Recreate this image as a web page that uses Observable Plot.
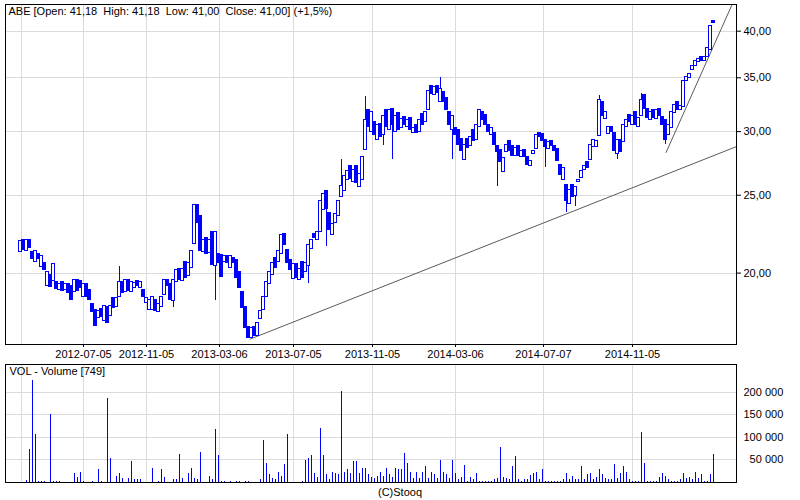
<!DOCTYPE html>
<html><head><meta charset="utf-8">
<script src="https://cdn.jsdelivr.net/npm/d3@7"></script>
<script src="https://cdn.jsdelivr.net/npm/@observablehq/plot@0.6"></script>
<style>
body{margin:0;background:#fff;}
#wrap{position:relative;width:800px;height:500px;font-family:"Liberation Sans",Arial,sans-serif;font-size:11px;color:#000;}
#wrap svg{display:block;}
svg text{white-space:pre;}
#caption{position:absolute;left:0;top:486px;width:800px;text-align:center;font-size:11px;line-height:13px;}
</style></head><body>
<div id="wrap"><div id="price"></div><div id="vol"></div><div id="caption">(C)Stooq</div></div>
<script>
// session opens (one entry per plotted session)
const opens = [21.22,21.96,21.28,21.96,21.22,20.62,21.1,20.38,20.56,19.25,
19.92,19.58,19.47,19.03,19.47,19.03,19.36,19.3,18.92,19.63,
19.58,18.7,19.41,19.03,18.28,17.97,17.61,18.07,17.46,18.17,
17.71,18.6,18.17,18.7,19.52,18.97,19.63,18.97,19.19,19.58,
19.19,19.03,18.38,17.97,17.97,18.54,17.87,18.17,18.81,19.63,
19.36,18.49,19.47,20.21,19.58,20.62,19.86,20.27,21.77,24.28,
23.58,21.22,22.09,21.16,22.47,20.44,21.1,21.04,20.62,20.98,
20.27,20.86,20.74,20.04,18.92,18.17,17.16,16.59,17.16,16.68,
17.56,17.97,18.7,19.41,19.92,20.86,20.62,21.1,22.34,21.34,
20.74,19.69,20.5,19.63,20.62,20.04,20.44,21.46,22.4,21.96,
22.47,23.93,25.34,23.73,22.28,23.12,23.58,24.84,25.34,26.08,
27.22,25.93,27.15,25.63,26.08,28.42,31.87,29.93,30.8,29.25,
30.62,29.68,31.87,30.1,32.05,29.93,31.6,30.27,31.25,30.36,
31.16,29.85,30.53,29.93,31.51,30.8,31.87,34.22,33.28,34.22,
32.61,33.56,32.99,31.69,30.1,30.27,30.1,29.33,27.62,29.33,
28.75,30.1,29.25,30.36,31.69,31.42,30.53,29.68,29.85,28.75,
28.42,26.69,28.26,29.17,28.75,27.94,28.75,27.86,28.42,27.86,
27.15,28.1,28.58,29.85,29.76,29.25,28.58,29.17,28.75,28.58,
27.3,26.08,25.71,24.35,25.78,24.91,26.0,26.23,26.84,27.46,
27.62,28.67,28.67,29.59,32.61,31.06,29.76,30.36,29.85,28.1,
29.25,29.08,30.36,31.42,30.53,31.69,30.36,31.33,33.28,32.05,
30.97,31.87,31.06,32.05,31.25,30.97,29.68,30.27,31.6,32.61,
31.87,32.23,34.73,35.03,35.74,36.16,36.57,37.2,36.68,37.2,
37.85,41.18];

// session closes
const closes = [21.9,21.35,22.0,21.5,20.8,21.3,20.8,21.0,20.2,20.05,
19.2,20.5,19.1,19.4,19.0,19.4,18.9,18.5,19.6,19.0,
19.15,19.4,18.7,18.5,17.9,17.2,17.95,17.65,18.2,17.35,
18.2,18.1,18.6,19.5,18.9,19.6,19.0,19.5,19.45,19.3,
19.5,18.7,18.6,18.5,18.65,17.95,18.3,18.7,19.6,19.25,
18.5,19.6,20.15,19.6,20.25,19.7,20.6,21.3,24.3,23.1,
21.3,22.0,21.1,22.0,20.45,22.5,20.6,19.8,21.0,20.6,
21.0,20.6,19.7,19.15,18.1,17.1,16.6,17.1,16.7,17.35,
17.95,18.7,19.5,20.05,20.6,20.3,21.3,22.3,21.7,20.6,
20.2,20.5,19.7,20.25,19.7,20.6,21.7,22.0,22.1,22.5,
24.6,25.1,24.0,22.6,23.0,23.7,24.6,25.7,26.4,26.8,
26.2,26.9,25.9,26.6,27.9,31.0,30.4,31.7,29.7,30.6,
29.5,31.4,30.4,31.9,30.6,31.4,30.1,31.1,30.6,31.0,
30.1,30.3,29.9,31.0,30.6,31.7,33.7,33.4,34.1,33.5,
33.9,32.7,31.9,30.6,31.4,29.7,28.9,28.4,28.9,28.6,
29.5,29.2,30.6,31.9,31.0,30.6,30.0,30.3,28.9,28.3,
27.5,27.8,28.9,28.4,28.0,28.6,28.0,28.4,27.9,27.3,
27.6,28.4,29.7,29.5,29.2,28.7,29.1,28.75,28.4,27.6,
26.5,27.0,24.6,25.4,24.9,25.6,26.1,26.8,27.2,27.0,
28.9,29.25,29.2,32.8,31.4,31.7,30.4,30.0,28.4,29.25,
28.3,30.6,31.0,30.8,31.4,30.6,31.2,32.8,32.0,31.2,
31.7,31.2,31.9,31.4,30.6,29.25,30.6,31.7,32.4,31.9,
32.3,34.7,35.1,35.4,36.2,36.7,36.9,36.7,37.1,38.1,
40.6,41.0];

// volume per session, thousands of shares
const volumesK = [0,0,3,72,226,105,2,2,2,0,
150,2,2,2,0,0,0,0,19,10,
22,2,0,0,2,0,27,2,0,187,
52,0,12,20,8,0,8,45,5,5,
5,0,0,0,29,0,2,27,10,0,
0,5,5,62,8,0,20,30,8,5,
65,0,0,12,5,116,58,2,2,0,
2,0,2,2,0,2,2,0,0,0,
5,92,42,17,8,5,21,12,40,105,
0,0,0,0,2,49,53,58,20,10,
119,60,17,5,22,20,17,201,22,27,
20,45,46,20,30,30,17,10,8,13,
22,12,30,17,10,30,27,27,63,42,
22,8,22,8,22,34,8,22,17,8,
47,22,17,8,49,20,5,10,36,2,
10,5,19,2,2,2,2,2,5,8,
78,10,8,5,34,56,5,2,5,5,
15,20,22,5,28,2,2,2,2,2,
2,5,20,5,13,5,5,34,5,17,
20,5,10,27,17,8,5,5,38,8,
20,34,22,5,2,2,2,110,41,2,
2,2,2,10,19,13,5,2,2,2,
5,20,8,10,5,22,8,17,2,2,
17,62];

// sessions with visible shadows (wicks)
const wickIndex = [33,51,65,96,102,107,115,121,124,140,144,159,175,182,185,193,199,207,215];
const wickLow   = [null,18.1,18.5,19.4,21.6,null,null,28.8,27.7,null,27.7,25.6,27.1,23.8,24.2,null,27.7,null,28.9];
const wickHigh  = [20.4,null,null,null,null,27.7,33.2,null,null,35.0,null,null,null,null,null,33.3,null,33.5,null];

// date grid: session index where each date falls
const dateTickIndex  = [0.33,21,42,66.33,91,117.33,145,174.33,204];
const dateTickLabels = ["","2012-07-05","2012-11-05","2013-03-06","2013-07-05","2013-11-05","2014-03-06","2014-07-07","2014-11-05"];

const priceTicks = [20,25,30,35,40];
const volTicks = [50000,100000,150000,200000];

// trend lines (session index, price)
const trendAIndex = [76.67,238.67], trendAPrice = [16.56,28.74];
const trendBIndex = [215.2,237.2],  trendBPrice = [28.26,43.18];

const titleText = "ABE [Open: 41,18  High: 41,18  Low: 41,00  Close: 41,00] (+1,5%)";
const volText = "VOL - Volume [749]";

// ---- build tables ----
const candles = closes.map((c,i)=>{
  const o = opens[i];
  let lo = Math.min(o,c), hi = Math.max(o,c);
  const w = wickIndex.indexOf(i);
  if (w>=0){
    if (wickLow[w]!=null) lo = Math.min(lo, wickLow[w]);
    if (wickHigh[w]!=null) hi = Math.max(hi, wickHigh[w]);
  }
  return {i, open:o, close:c, low:lo, high:hi, up:c>=o};
});
const trendA = trendAIndex.map((x,k)=>({i:x,p:trendAPrice[k]}));
const trendB = trendBIndex.map((x,k)=>({i:x,p:trendBPrice[k]}));
const volData = volumesK.map((v,i)=>({i, v:v*1000})).filter(d=>d.v>0);
const labelMap = new Map(dateTickIndex.map((d,k)=>[d,dateTickLabels[k]]));
const labeledTicks = dateTickIndex.filter((d,k)=>dateTickLabels[k]!=="");

const BLUE = "#0000ff", GRID = "#dadada";
const style = {fontFamily:"'Liberation Sans', Arial, sans-serif", fontSize:"11px", color:"#000", background:"#fff", overflow:"visible"};
const xDomain = [-5, 238.67];
const bw = 0.42;
const crisp = {shapeRendering:"crispEdges"};

const price = Plot.plot({
  width:800, height:362, marginLeft:5, marginRight:64, marginTop:4, marginBottom:18,
  style,
  x:{type:"linear", domain:xDomain, axis:null, label:null},
  y:{type:"log", domain:[16.3, 43.18], axis:null, label:null},
  marks:[
    Plot.gridX(dateTickIndex, {stroke:GRID, strokeOpacity:1, ...crisp}),
    Plot.gridY(priceTicks, {stroke:GRID, strokeOpacity:1, ...crisp}),
    Plot.line(trendA, {x:"i", y:"p", stroke:"#5a5a5a", strokeWidth:1, clip:true}),
    Plot.line(trendB, {x:"i", y:"p", stroke:"#5a5a5a", strokeWidth:1, clip:true}),
    Plot.ruleX(candles, {x:"i", y1:"low", y2:"high", stroke:BLUE, strokeWidth:1, ...crisp}),
    Plot.rect(candles.filter(d=>d.up), {x1:d=>d.i-bw, x2:d=>d.i+bw, y1:"open", y2:"close", fill:"#fff", stroke:BLUE, strokeWidth:1, ...crisp}),
    Plot.rect(candles.filter(d=>!d.up), {x1:d=>d.i-bw, x2:d=>d.i+bw, y1:"open", y2:"close", fill:BLUE, stroke:BLUE, strokeWidth:1, ...crisp}),
    Plot.frame({stroke:"#000", ...crisp}),
    Plot.axisY(priceTicks, {anchor:"right", label:null, tickFormat:d=>d.toFixed(2).replace(".", ","), tickSize:4, tickPadding:3}),
    Plot.axisX(labeledTicks, {anchor:"bottom", label:null, tickFormat:d=>labelMap.get(d), tickSize:3, tickPadding:3}),
    Plot.text([titleText], {frameAnchor:"top-left", dx:3, dy:3, textAnchor:"start", lineAnchor:"top", fill:"#000"})
  ]
});
document.getElementById("price").append(price);

const fmtVol = d => { const s = d3.format(",")(d).replace(/,/g," "); return s.length < 7 ? "\u2007"+s : s; };
const vol = Plot.plot({
  width:800, height:138, marginLeft:5, marginRight:64, marginTop:2, marginBottom:18.5,
  style,
  x:{type:"linear", domain:xDomain, axis:null, label:null},
  y:{domain:[0,262000], axis:null, label:null},
  marks:[
    Plot.gridX(dateTickIndex, {stroke:GRID, strokeOpacity:1, ...crisp}),
    Plot.gridY(volTicks, {stroke:GRID, strokeOpacity:1, ...crisp}),
    Plot.ruleX(volData, {x:"i", y1:0, y2:"v", stroke:BLUE, strokeWidth:1, ...crisp}),
    Plot.frame({stroke:"#000", ...crisp}),
    Plot.axisY(volTicks, {anchor:"right", label:null, tickFormat:fmtVol, tickSize:0, tickPadding:7}),
    Plot.text([volText], {frameAnchor:"top-left", dx:4, dy:3, textAnchor:"start", lineAnchor:"top", fill:"#000"})
  ]
});
document.getElementById("vol").append(vol);
</script>
</body></html>
